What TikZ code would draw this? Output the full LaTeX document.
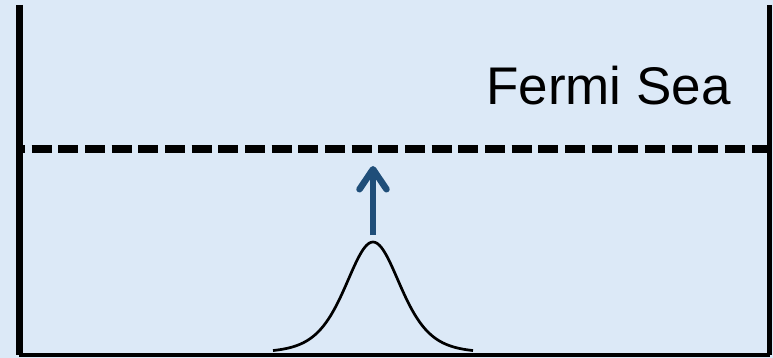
\documentclass[tikz,border=0pt]{standalone}
\usepackage{fontspec}
\setsansfont{Liberation Sans}
\usetikzlibrary{arrows.meta}

\begin{document}
\begin{tikzpicture}[
  x=1pt,y=-1pt,
  wall/.style={draw=black,line width=#1},
  level/.style={draw=black,line width=7.5pt,dash pattern=on 20pt off 6.67pt,dash phase=14pt},
  excite/.style={-{Straight Barb[length=20pt,width=27pt,round]},line width=6.5pt,draw=seablue},
  wavepkt/.style={draw=black,line width=2.7pt},
  lab/.style={font=\sffamily\fontsize{53}{60}\selectfont,inner sep=0pt}]

  \definecolor{seafill}{RGB}{220,233,247}
  \definecolor{seablue}{RGB}{31,78,121}

  % ---- background ----
  \fill[seafill] (0,0) rectangle (773,358);
  \useasboundingbox (0,0) rectangle (773,358);

  % ---- container ----
  \coordinate (tl) at (19,5);
  \coordinate (bl) at (19,355);
  \coordinate (br) at (769.5,355);
  \coordinate (tr) at (769.5,5);
  \coordinate (fl) at (19,149);
  \coordinate (fr) at (769.5,149);

  % Fermi level
  \draw[level] (fl) -- (fr);
  \draw[wall=7pt] (tl) -- (bl);
  \draw[wall=4pt] (bl) -- (br);
  \draw[wall=5pt] (tr) -- (br);

  % ---- wave packet ----
  \draw[wavepkt] plot[domain=-100:100,samples=121,smooth]
    ({373+\x},{352.5-110.5*(2/(exp(\x/37)+exp(-\x/37)))^2});

  % excitation towards the Fermi level
  \coordinate (kick) at (373,235);
  \coordinate (kicktop) at (373,166);
  \draw[excite] (kick) -- (kicktop);

  % label
  \node[lab,anchor=base west] (sea) at (486,105) {Fermi Sea};
\end{tikzpicture}
\end{document}
